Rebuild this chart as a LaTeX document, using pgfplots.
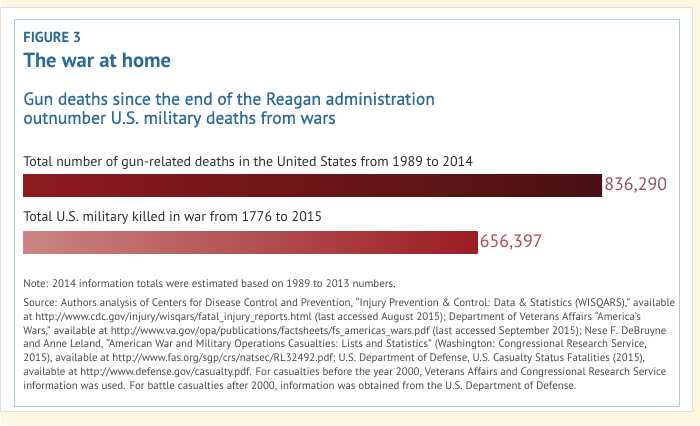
\documentclass[border=0pt]{standalone}
\usepackage{fontspec}
\setmainfont{PT Sans}
\newfontfamily\semibold[FakeBold=0.6]{PT Sans}
\usepackage{pgfplots}
\pgfplotsset{compat=1.18}

\definecolor{bgyellow}{HTML}{FCF7E1}
\definecolor{boxblue}{HTML}{AFC9E2}
\definecolor{titleblue}{HTML}{2A6A9B}
\definecolor{labelgray}{HTML}{2E2E2E}
\definecolor{notegray}{HTML}{4A4A4A}
\definecolor{gunA}{HTML}{8E1A1F}
\definecolor{gunB}{HTML}{4A1114}
\definecolor{warA}{HTML}{CB8582}
\definecolor{warB}{HTML}{9C1C21}
\definecolor{gunval}{HTML}{8A5560}
\definecolor{warval}{HTML}{B5484F}

\begin{document}
\begin{tikzpicture}[x=1pt,y=1pt]
  % page and panels
  \fill[bgyellow] (0,0) rectangle (700,426);
  \filldraw[fill=white,draw=black!12] (-1,14) rectangle (692,419);
  \draw[boxblue,line width=0.9pt] (13,19) rectangle (679,407);

  % titles
  \node[anchor=base west,inner sep=0pt,font=\fontsize{14.6}{16}\selectfont\bfseries,text=titleblue] at (22,383) {FIGURE 3};
  \node[anchor=base west,inner sep=0pt,font=\fontsize{20.6}{23}\selectfont\bfseries,text=titleblue] at (22,358) {The war at home};
  \node[anchor=base west,inner sep=0pt,font=\fontsize{17.6}{19}\semibold,text=titleblue] at (22,321) {Gun deaths since the end of the Reagan administration};
  \node[anchor=base west,inner sep=0pt,font=\fontsize{17.6}{19}\semibold,text=titleblue] at (22,302) {outnumber U.S. military deaths from wars};

  % bar captions
  \node[anchor=base west,inner sep=0pt,font=\fontsize{14}{16}\selectfont,text=labelgray] at (22,259) {Total number of gun-related deaths in the United States from 1989 to 2014};
  \node[anchor=base west,inner sep=0pt,font=\fontsize{14}{16}\selectfont,text=labelgray] at (22,204) {Total U.S. military killed in war from 1776 to 2015};

  \begin{axis}[
      at={(22pt,0pt)}, anchor=south west,
      width=580pt, height=426pt, scale only axis,
      xmin=0, xmax=836290, ymin=0, ymax=426,
      axis lines=none, clip=false,
      xbar, bar width=22pt, bar shift=0pt,
      point meta=x,
      nodes near coords={\pgfmathprintnumber[fixed,precision=0,1000 sep={,},assume math mode=true]{\pgfplotspointmeta}},
      nodes near coords style={anchor=west,inner sep=2pt,font=\fontsize{18}{20}\selectfont},
    ]
    % gun deaths 1989-2014
    \addplot[draw=none,left color=gunA,right color=gunB,
      nodes near coords style={text=gunval}] coordinates {(836290,240)};
    % US military killed in war 1776-2015
    \addplot[draw=none,left color=warA,right color=warB,
      nodes near coords style={text=warval}] coordinates {(656397,183.5)};
  \end{axis}

  % notes
  \node[anchor=base west,inner sep=0pt,font=\fontsize{11}{12}\selectfont,text=notegray] at (22,138) {Note: 2014 information totals were estimated based on 1989 to 2013 numbers.};
  \node[anchor=north west,inner sep=0pt,align=left,font=\fontsize{10.9}{13.8}\selectfont,text=notegray] at (22,127.5) {%
    Source: Authors analysis of Centers for Disease Control and Prevention, “Injury Prevention \& Control: Data \& Statistics (WISQARS),” available\\
    at http://www.cdc.gov/injury/wisqars/fatal\_injury\_reports.html (last accessed August 2015); Department of Veterans Affairs “America’s\\
    Wars,” available at http://www.va.gov/opa/publications/factsheets/fs\_americas\_wars.pdf (last accessed September 2015); Nese F. DeBruyne\\
    and Anne Leland, “American War and Military Operations Casualties: Lists and Statistics” (Washington: Congressional Research Service,\\
    2015), available at http://www.fas.org/sgp/crs/natsec/RL32492.pdf; U.S. Department of Defense, U.S. Casualty Status Fatalities (2015),\\
    available at http://www.defense.gov/casualty.pdf. For casualties before the year 2000, Veterans Affairs and Congressional Research Service\\
    information was used. For battle casualties after 2000, information was obtained from the U.S. Department of Defense.};
\end{tikzpicture}
\end{document}
